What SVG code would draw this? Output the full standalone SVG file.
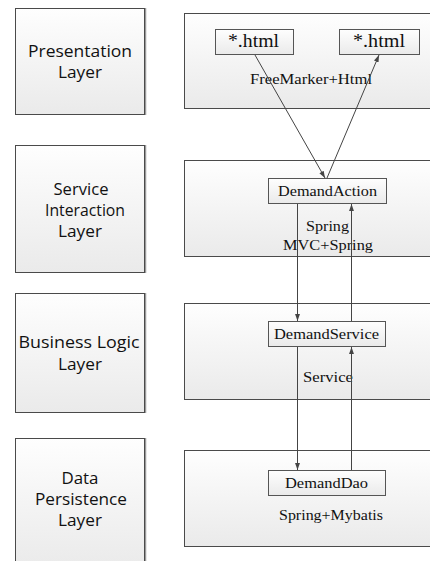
<svg xmlns="http://www.w3.org/2000/svg" width="430" height="561" viewBox="0 0 430 561">
<defs>
<linearGradient id="g" x1="0" y1="0" x2="0" y2="1">
<stop offset="0" stop-color="#fefefe"/>
<stop offset="1" stop-color="#eaeaea"/>
</linearGradient>
<marker id="a" viewBox="0 0 10 10" refX="10" refY="5" markerWidth="7" markerHeight="7" orient="auto" markerUnits="userSpaceOnUse">
<path d="M0,1.5 L10,5 L0,8.5 Z" fill="#444"/>
</marker>
<style>
.box{fill:url(#g);stroke:#4a4a4a;stroke-width:1}
.shadow{fill:none;stroke:#9a9a9a;stroke-width:1.5}
.inner{fill:url(#g);stroke:#555;stroke-width:1}
.lbl{font-family:"Open Sans","Noto Sans",sans-serif;font-size:16.5px;fill:#111;text-anchor:middle}
.ser{font-family:"Liberation Serif","Times New Roman",serif;fill:#111;text-anchor:middle}
.conn{stroke:#444;stroke-width:1;fill:none;marker-end:url(#a)}
</style>
</defs>
<rect width="430" height="561" fill="#fff"/>

<g id="layer-presentation">
<line class="shadow" x1="145.5" y1="8" x2="145.5" y2="115"/>
<rect class="box" x="15.5" y="8.5" width="129" height="106"/>
<text class="lbl" x="80" y="57" textLength="104" lengthAdjust="spacingAndGlyphs">Presentation</text>
<text class="lbl" x="80" y="78" textLength="44" lengthAdjust="spacingAndGlyphs">Layer</text>
</g>
<g id="layer-service-interaction">
<line class="shadow" x1="145.5" y1="145" x2="145.5" y2="273"/>
<rect class="box" x="15.5" y="145.5" width="129" height="127"/>
<text class="lbl" x="81" y="195" textLength="55" lengthAdjust="spacingAndGlyphs">Service</text>
<text class="lbl" x="85" y="216" textLength="80" lengthAdjust="spacingAndGlyphs">Interaction</text>
<text class="lbl" x="80" y="237" textLength="44" lengthAdjust="spacingAndGlyphs">Layer</text>
</g>
<g id="layer-business-logic">
<line class="shadow" x1="145.5" y1="293" x2="145.5" y2="413"/>
<rect class="box" x="15.5" y="293.5" width="129" height="119"/>
<text class="lbl" x="79" y="348" textLength="121" lengthAdjust="spacingAndGlyphs">Business Logic</text>
<text class="lbl" x="80" y="370" textLength="44" lengthAdjust="spacingAndGlyphs">Layer</text>
</g>
<g id="layer-data-persistence">
<line class="shadow" x1="145.5" y1="438" x2="145.5" y2="561"/>
<rect class="box" x="15.5" y="438.5" width="129" height="130"/>
<text class="lbl" x="80" y="484" textLength="37" lengthAdjust="spacingAndGlyphs">Data</text>
<text class="lbl" x="81" y="505" textLength="92" lengthAdjust="spacingAndGlyphs">Persistence</text>
<text class="lbl" x="80" y="526" textLength="44" lengthAdjust="spacingAndGlyphs">Layer</text>
</g>

<g id="tier-presentation">
<rect class="box" x="184.5" y="13.5" width="260" height="95"/>
<text class="ser" x="311" y="84" font-size="15" textLength="122" lengthAdjust="spacingAndGlyphs">FreeMarker+Html</text>
</g>
<g id="tier-service">
<rect class="box" x="184.5" y="160.5" width="260" height="96"/>
<text class="ser" x="327.5" y="231" font-size="15" textLength="43" lengthAdjust="spacingAndGlyphs">Spring</text>
<text class="ser" x="328" y="250" font-size="15" textLength="90" lengthAdjust="spacingAndGlyphs">MVC+Spring</text>
</g>
<g id="tier-business">
<rect class="box" x="184.5" y="303.5" width="260" height="96"/>
<text class="ser" x="328" y="382" font-size="15" textLength="50" lengthAdjust="spacingAndGlyphs">Service</text>
</g>
<g id="tier-data">
<rect class="box" x="184.5" y="450.5" width="260" height="96"/>
<text class="ser" x="331" y="520" font-size="15" textLength="104" lengthAdjust="spacingAndGlyphs">Spring+Mybatis</text>
</g>

<g id="html1">
<rect class="inner" x="215.5" y="29.5" width="78" height="25"/>
<text class="ser" x="253.5" y="47" font-size="18" textLength="51" lengthAdjust="spacingAndGlyphs">*.html</text>
</g>
<g id="html2">
<rect class="inner" x="339.5" y="29.5" width="80" height="25"/>
<text class="ser" x="379" y="47" font-size="18" textLength="52" lengthAdjust="spacingAndGlyphs">*.html</text>
</g>
<g id="demand-action">
<rect class="inner" x="268.5" y="178.5" width="118" height="25"/>
<text class="ser" x="327.5" y="196" font-size="15" textLength="99" lengthAdjust="spacingAndGlyphs">DemandAction</text>
</g>
<g id="demand-service">
<rect class="inner" x="268.5" y="321.5" width="117" height="25"/>
<text class="ser" x="326.5" y="339" font-size="15" textLength="105" lengthAdjust="spacingAndGlyphs">DemandService</text>
</g>
<g id="demand-dao">
<rect class="inner" x="268.5" y="470.5" width="117" height="25"/>
<text class="ser" x="326.5" y="488" font-size="15" textLength="83" lengthAdjust="spacingAndGlyphs">DemandDao</text>
</g>

<g id="connectors">
<line class="conn" x1="255" y1="55" x2="325" y2="178"/>
<line class="conn" x1="327" y1="178" x2="379" y2="55"/>
<line class="conn" x1="297.5" y1="204" x2="297.5" y2="321"/>
<line class="conn" x1="351.5" y1="321" x2="351.5" y2="204"/>
<line class="conn" x1="297.5" y1="347" x2="297.5" y2="470"/>
<line class="conn" x1="351.5" y1="470" x2="351.5" y2="347"/>
</g>
</svg>
